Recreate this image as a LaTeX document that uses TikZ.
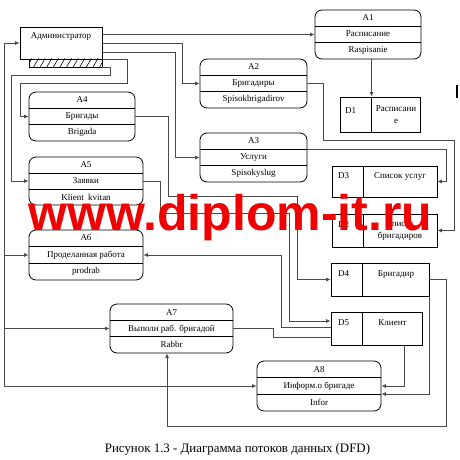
\documentclass[tikz,border=0pt]{standalone}
\usepackage{fontspec}
\setmainfont{Liberation Serif}
\setsansfont{Liberation Sans}
\usetikzlibrary{arrows.meta,calc}
\definecolor{wirecol}{HTML}{4A4A4A}
\definecolor{wmred}{HTML}{F00000}

\begin{document}
\begin{tikzpicture}[
  x=1pt, y=-1pt,
  font=\fontsize{9}{10.5}\selectfont,
  ext/.style={draw, line width=0.8pt, inner ysep=6pt, text height=6pt, text depth=14pt, minimum width=82pt},
  hatchbar/.style={draw, line width=0.8pt, minimum width=73pt, minimum height=8pt, inner sep=0pt,
    path picture={\foreach \i in {0,...,11} \draw[line width=0.6pt] ([xshift=\i*6.6pt-2pt]path picture bounding box.south west) -- ++(60:10pt);}},
  proc/.style={draw, line width=0.8pt, rounded corners=7pt, align=center, inner sep=0pt,
    font=\fontsize{9}{16.3}\selectfont, minimum height=49pt,
    path picture={
      \draw[line width=0.8pt] ($(path picture bounding box.north west)!1/3!(path picture bounding box.south west)$) -- ($(path picture bounding box.north east)!1/3!(path picture bounding box.south east)$);
      \draw[line width=0.8pt] ($(path picture bounding box.north west)!2/3!(path picture bounding box.south west)$) -- ($(path picture bounding box.north east)!2/3!(path picture bounding box.south east)$);}},
  store/.style={draw, line width=0.8pt, inner sep=0pt, minimum height=33pt,
    path picture={\draw[line width=0.8pt] ([xshift=31.5pt]path picture bounding box.north west) -- ([xshift=31.5pt]path picture bounding box.south west);}},
  sid/.style={anchor=base west, inner sep=0pt},
  sname/.style={anchor=north, align=center, inner sep=0pt, font=\fontsize{9}{12}\selectfont},
  flow/.style={-{Latex[length=4.5pt,width=4pt]}, line width=0.8pt, draw=wirecol},
  link/.style={line width=0.8pt, draw=wirecol},
]
\useasboundingbox (0,0) rectangle (460,460);
% external entity
\node[ext] (admin) at (61,43) {Администратор};
\node[hatchbar] (adminbar) at (65.5,63) {};
% processes
\node[proc, minimum width=106pt] (a1) at (368,34.5) {A1\\Расписание\\Raspisanie};
\node[proc, minimum width=107pt] (a2) at (253.5,83.5) {A2\\Бригадиры\\Spisokbrigadirov};
\node[proc, minimum width=107pt] (a3) at (253.5,157.5) {A3\\Услуги\\Spisokyslug};
\node[proc, minimum width=106pt] (a4) at (82,116.5) {A4\\Бригады\\Brigada};
\node[proc, minimum width=114pt, minimum height=48pt] (a5) at (86,181) {A5\\Заявки\\Klient\ \ kvitan};
\node[proc, minimum width=114pt, minimum height=50pt] (a6) at (86,255) {A6\\Проделанная работа\\prodrab};
\node[proc, minimum width=123pt] (a7) at (171.5,328.5) {A7\\Выполн раб. бригадой\\Rabbr};
\node[proc, minimum width=124pt, minimum height=50pt] (a8) at (319,386) {A8\\Информ.о бригаде\\Infor};
% data stores
\node[store, minimum width=80pt, minimum height=35pt] (d1) at (380,114.5) {};
\node[sid] (d1id) at (345,113) {D1};
\node[sname] (d1name) at (396,105.5) {Расписани\\е};
\node[store, minimum width=105pt, minimum height=31pt] (d3) at (384.5,181.5) {};
\node[sid] (d3id) at (338,178) {D3};
\node[sname] (d3name) at (400,172) {Список услуг};
\node[store, minimum width=105pt] (d2) at (384.5,230.5) {};
\node[sid] (d2id) at (338,227) {D2};
\node[sname] (d2name) at (400,220) {Список\\бригадиров};
\node[store, minimum width=98pt] (d4) at (380,279.5) {};
\node[sid] (d4id) at (338,276) {D4};
\node[sname] (d4name) at (396,270) {Бригадир};
\node[store, minimum width=91pt] (d5) at (376.5,328.5) {};
\node[sid] (d5id) at (338,325) {D5};
\node[sname] (d5name) at (392.5,319) {Клиент};
\coordinate (d1div) at ([xshift=32pt]d1.north west);
\coordinate (bus) at (4,43);
% flows
\draw[link] (bus) -- (bus |- a8.west);
\draw[flow] (bus |- admin.west) -- (admin.west);
\draw[flow] (bus |- a6.west) -- (a6.west);
\draw[flow] (bus |- a7.west) -- (a7.west);
\draw[flow] (bus |- a8.west) -- (a8.west);
\draw[flow] (admin.east |- a1.west) -- (a1.west);
\draw[flow] (admin.east) -| ([xshift=-17pt]a2.west) -- (a2.west);
\draw[flow] ([yshift=-9pt]admin.east) -| ([xshift=-24pt]a3.west) -- (a3.west);
\draw[flow] (admin.south east) -- ++(25,0) -- ++(0,24) -| ([xshift=-8pt]a4.west) -- (a4.west);
\draw[flow] (adminbar.south east) -- ++(8,0) -- ++(0,8) -| ([xshift=-17pt]a5.west) -- (a5.west);
\draw[flow] (a1.south -| d1div) -- (d1div);
\draw[flow] (a2.east) -- ++(16,0) -- ++(0,57) -| ([xshift=17pt]d2.east) -- (d2.east);
\draw[flow] ([yshift=8pt]a3.east) -| ([xshift=9pt]d3.east) -- (d3.east);
\draw[flow] (a4.east) -- ++(33,0) -- ++(0,80) -| ([xshift=-33pt]d4.west) -- (d4.west);
\draw[flow] (a5.east) -- ++(17,0) -- ++(0,32) -| ([xshift=-41pt,yshift=7.5pt]d5.west) -- ([yshift=7.5pt]d5.west);
\draw[flow] ([yshift=1.5pt]d5.west) -- ++(-49,0) |- (a6.east);
\draw[link] (a7.east) -- ++(40,0) |- ([yshift=-8.5pt]d5.west);
\draw[flow] (d4.east) -- ++(17,0) -- ++(0,147) -| ([xshift=-4.5pt]a7.south);
\draw[flow] (d4.south east) |- ([yshift=-8pt]a8.east);
\draw[flow] ([xshift=27.5pt]d5.south) |- (a8.east);
\draw[line width=2.2pt] (457,85) -- (457,98);
% watermark and caption
\node[font=\sffamily\bfseries\fontsize{50}{50}\selectfont, text=wmred, anchor=base, inner sep=0pt] (wmark) at (230.5,230) {www.diplom-it.ru};
\node[font=\fontsize{12.9}{15}\selectfont, anchor=base, inner sep=0pt] (caption) at (237.5,452) {Рисунок 1.3 - Диаграмма потоков данных (DFD)};
\end{tikzpicture}
\end{document}
